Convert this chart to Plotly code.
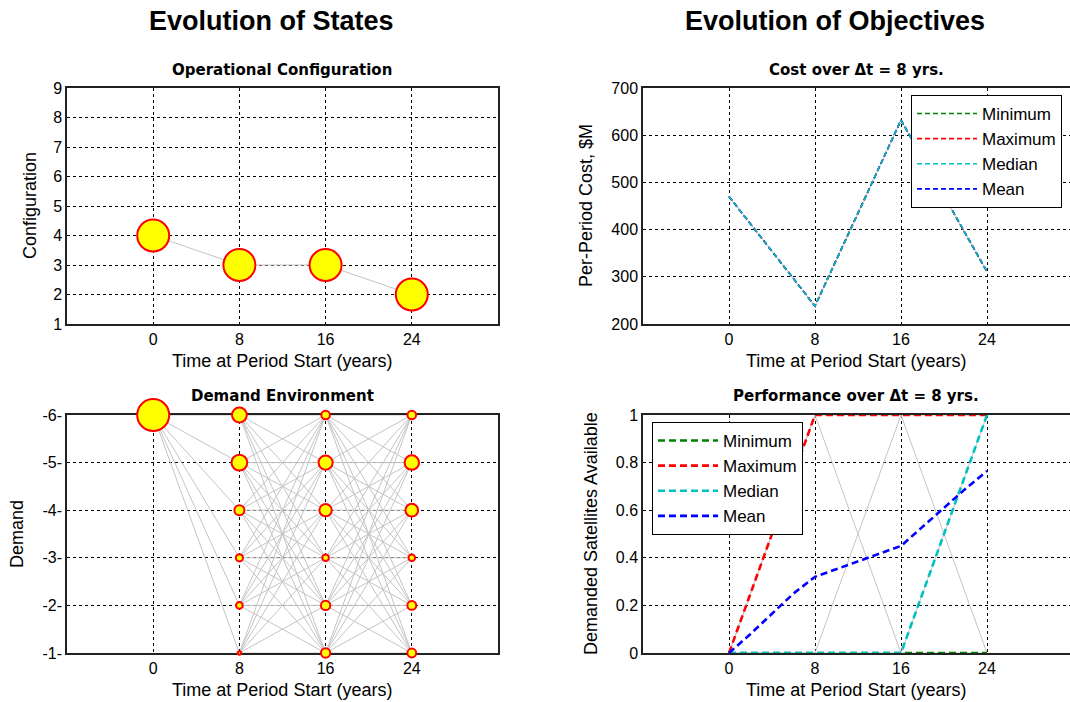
import plotly.graph_objects as go

# ---------------- data ----------------
period_starts = [0, 8, 16, 24]
x_tick_labels = ["0", "8", "16", "24"]

# Operational configuration path (deterministic, probability 1 at every stage)
config_path = [4, 3, 3, 2]
config_prob = [1.0, 1.0, 1.0, 1.0]

# Demand environment lattice: demand levels and node probabilities per stage
demand_levels = [6, 5, 4, 3, 2, 1]
demand_tick_labels = ["-6-", "-5-", "-4-", "-3-", "-2-", "-1-"]
demand_start = 6
prob_t8 = [0.29, 0.32, 0.16, 0.10, 0.09, 0.04]
prob_t16 = [0.13, 0.27, 0.22, 0.09, 0.145, 0.145]
prob_t24 = [0.13, 0.28, 0.23, 0.09, 0.135, 0.135]

# Cost over each 8-year period ($M)
cost_min = [470, 238, 632, 311]
cost_max = [470, 238, 632, 311]
cost_median = [470, 238, 632, 311]
cost_mean = [470, 238, 632, 311]

# Fraction of demanded satellites available
perf_min = [0, 0, 0, 0]
perf_max = [0, 1, 1, 1]
perf_median = [0, 0, 0, 1]
perf_mean_t = [0, 2, 4, 6, 8, 10, 12, 14, 16, 18, 20, 22, 24]
perf_mean = [0, 0.08, 0.165, 0.25, 0.32, 0.352, 0.384, 0.418, 0.45, 0.53, 0.61, 0.69, 0.765]
perf_sample_paths = [
    [0, 1, 0, 1],
    [0, 0, 1, 0],
    [0, 1, 1, 1],
    [0, 0, 0, 0],
]

# ---------------- styling ----------------
W, H = 1070, 702
FONT = "Liberation Sans, Arial, sans-serif"
TITLE_FONT = "DejaVu Sans, Verdana, sans-serif"
EDGE = "#c4c4c4"
NODE_FILL = "#ffff00"
NODE_LINE = "#ff0000"
STAT_COLORS = {"Minimum": "#008000", "Maximum": "#ff0000",
               "Median": "#00c0c0", "Mean": "#0000ff"}


def px_x(p):
    return p / W


def px_y(p):
    return 1 - p / H


def node_size(p):
    # visible diameter grows with probability; subtract stroke width
    return 34 * p ** 0.57 - 2


fig = go.Figure()

# ---- Operational configuration (top left) ----
fig.add_trace(go.Scatter(x=period_starts, y=config_path, mode="lines",
                         line=dict(color=EDGE, width=1), xaxis="x", yaxis="y",
                         showlegend=False, hoverinfo="skip"))
fig.add_trace(go.Scatter(x=period_starts, y=config_path, mode="markers",
                         marker=dict(size=[node_size(p) for p in config_prob], color=NODE_FILL,
                                     opacity=1, line=dict(color=NODE_LINE, width=2)),
                         xaxis="x", yaxis="y", showlegend=False, cliponaxis=False))

# ---- Demand environment (bottom left) ----
stages = [[demand_start], demand_levels, demand_levels, demand_levels]
stage_probs = [[1.0], prob_t8, prob_t16, prob_t24]
ex, ey = [], []
for k in range(len(period_starts) - 1):
    for a in stages[k]:
        for b in stages[k + 1]:
            ex += [period_starts[k], period_starts[k + 1], None]
            ey += [a, b, None]
fig.add_trace(go.Scatter(x=ex, y=ey, mode="lines", line=dict(color=EDGE, width=1),
                         xaxis="x3", yaxis="y3", showlegend=False, hoverinfo="skip"))
nx, ny, ns = [], [], []
for k, t in enumerate(period_starts):
    for lvl, p in zip(stages[k], stage_probs[k]):
        nx.append(t)
        ny.append(lvl)
        ns.append(node_size(p))
fig.add_trace(go.Scatter(x=nx, y=ny, mode="markers",
                         marker=dict(size=ns, color=NODE_FILL, opacity=1,
                                     line=dict(color=NODE_LINE, width=2)),
                         xaxis="x3", yaxis="y3", showlegend=False, cliponaxis=False))

# ---- Cost (top right) ----
fig.add_trace(go.Scatter(x=period_starts, y=cost_median, mode="lines",
                         line=dict(color=EDGE, width=1), xaxis="x2", yaxis="y2",
                         showlegend=False, hoverinfo="skip"))
cost_series = [("Minimum", cost_min, 1), ("Maximum", cost_max, 2),
               ("Mean", cost_mean, 4), ("Median", cost_median, 3)]
for name, vals, rank in cost_series:
    fig.add_trace(go.Scatter(x=period_starts, y=vals, mode="lines", name=name,
                             line=dict(color=STAT_COLORS[name], width=1.6, dash="5px,3px"),
                             xaxis="x2", yaxis="y2", legend="legend", legendrank=rank,
                             legendgroup="c" + name))

# ---- Performance (bottom right) ----
for path in perf_sample_paths:
    fig.add_trace(go.Scatter(x=period_starts, y=path, mode="lines",
                             line=dict(color=EDGE, width=1), xaxis="x4", yaxis="y4",
                             showlegend=False, hoverinfo="skip"))
perf_series = [("Minimum", period_starts, perf_min), ("Maximum", period_starts, perf_max),
               ("Median", period_starts, perf_median), ("Mean", perf_mean_t, perf_mean)]
for name, xs, vals in perf_series:
    fig.add_trace(go.Scatter(x=xs, y=vals, mode="lines", name=name,
                             line=dict(color=STAT_COLORS[name], width=2.6, dash="7px,4px"),
                             xaxis="x4", yaxis="y4", legend="legend2", legendgroup="p" + name))

# ---------------- axes ----------------
left_dom = [px_x(67), px_x(498)]
right_dom = [px_x(643), 1.0]
top_dom = [px_y(324), px_y(88)]
bot_dom = [px_y(653), px_y(415)]

tick_font = dict(family=FONT, size=16, color="black")
common = dict(showgrid=True, gridcolor="black", gridwidth=1, griddash="3px,3px",
              showline=True, linecolor="#222222", linewidth=1.5, ticks="",
              tickfont=tick_font, zeroline=False, layer="below traces", fixedrange=True,
              automargin=False)

xa = dict(common, tickvals=period_starts, ticktext=x_tick_labels, mirror=True)
fig.update_layout(
    xaxis=dict(xa, domain=left_dom, range=[-8, 32], anchor="y"),
    yaxis=dict(common, domain=top_dom, range=[1, 9], dtick=1, anchor="x", mirror=True),
    xaxis2=dict(xa, domain=right_dom, range=[-8, 31.72], anchor="y2"),
    yaxis2=dict(common, domain=top_dom, range=[200, 700], dtick=100, anchor="x2", mirror=False),
    xaxis3=dict(xa, domain=left_dom, range=[-8, 32], anchor="y3"),
    yaxis3=dict(common, domain=bot_dom, range=[1, 6], tickvals=demand_levels,
                ticktext=demand_tick_labels, anchor="x3", mirror=True),
    xaxis4=dict(xa, domain=right_dom, range=[-8, 31.72], anchor="y4"),
    yaxis4=dict(common, domain=bot_dom, range=[0, 1], tickvals=[0, 0.2, 0.4, 0.6, 0.8, 1],
                ticktext=["0", "0.2", "0.4", "0.6", "0.8", "1"], anchor="x4", mirror=False),
)

legend_style = dict(bgcolor="white", bordercolor="black", borderwidth=1,
                    font=dict(family=FONT, size=17, color="black"),
                    xanchor="left", yanchor="top", traceorder="grouped", tracegroupgap=0,
                    itemwidth=60)
fig.update_layout(
    legend=dict(legend_style, x=px_x(911), y=px_y(95)),
    legend2=dict(legend_style, x=px_x(652), y=px_y(422)),
)

# ---------------- titles ----------------
ann = []


def text(x, y, s, size, family=FONT, bold=False, angle=0):
    ann.append(dict(x=px_x(x), y=px_y(y), xref="paper", yref="paper", text=s,
                    showarrow=False, textangle=angle, xanchor="center", yanchor="middle",
                    font=dict(family=family, size=size, color="black",
                              weight="bold" if bold else "normal")))


text(271, 21, "Evolution of States", 27, bold=True)
text(835, 21, "Evolution of Objectives", 27, bold=True)
text(282, 70, "Operational Configuration", 15, family=TITLE_FONT, bold=True)
text(282, 396, "Demand Environment", 15, family=TITLE_FONT, bold=True)
text(857, 70, "Cost over Δt = 8 yrs.", 15, family=TITLE_FONT, bold=True)
text(856, 396, "Performance over Δt = 8 yrs.", 15, family=TITLE_FONT, bold=True)
for xc in (282, 856):
    text(xc, 361, "Time at Period Start (years)", 18)
    text(xc, 690, "Time at Period Start (years)", 18)
text(30, 206, "Configuration", 18, angle=-90)
text(17, 534, "Demand", 18, angle=-90)
text(586, 206, "Per-Period Cost, $M", 18, angle=-90)
text(591, 534, "Demanded Satellites Available", 18, angle=-90)

fig.update_layout(width=W, height=H,
                  margin=dict(l=0, r=0, t=0, b=0, pad=0, autoexpand=False),
                  paper_bgcolor="white", plot_bgcolor="white",
                  annotations=ann, font=dict(family=FONT), hovermode=False)

fig.write_html("out.html")
